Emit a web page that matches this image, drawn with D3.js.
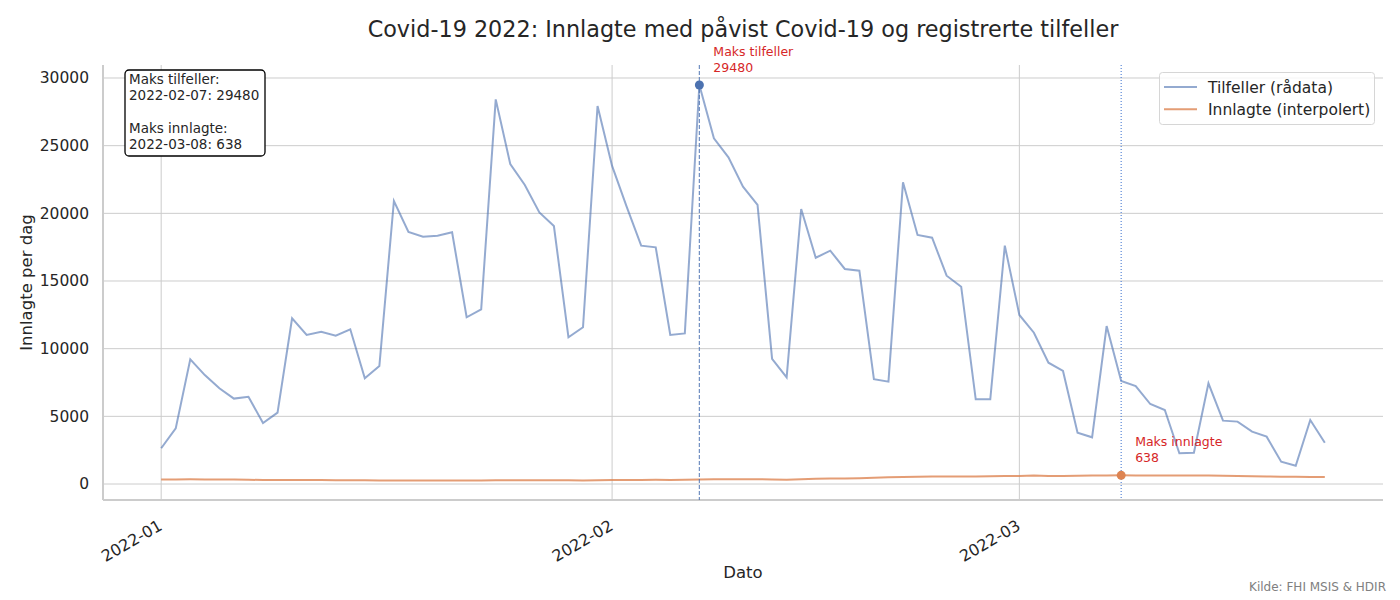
<!DOCTYPE html>
<html>
<head>
<meta charset="utf-8">
<script src="https://cdn.jsdelivr.net/npm/d3@7"></script>
<style>
	body { margin: 0; background: #fff; }
	text { font-family: "DejaVu Sans", sans-serif; fill: #262626; }
</style>
</head>
<body>
<div id="chart"></div>
<script>

// daglige tall, 2022-01-01 .. 2022-03-22
var startDate = new Date(2022, 0, 1);
var endDate = new Date(2022, 2, 23);
var dates = d3.timeDay.range(startDate, endDate);

var tilfeller = [
	2640, 4110, 9210, 8050, 7070, 6310, 6450, 4510, 5270, 12240,
	11010, 11250, 10960, 11430, 7810, 8720, 20910, 18620, 18270, 18350,
	18600, 12320, 12910, 28420, 23640, 22090, 20070, 19060, 10840, 11580,
	27930, 23500, 20490, 17610, 17490, 11010, 11130, 29480, 25540, 24140,
	21970, 20620, 9240, 7880, 20320, 16720, 17240, 15890, 15760, 7740,
	7560, 22290, 18400, 18200, 15390, 14580, 6260, 6260, 17610, 12490,
	11180, 8960, 8350, 3790, 3450, 11670, 7610, 7240, 5910, 5470,
	2270, 2310, 7440, 4680, 4610, 3870, 3500, 1650, 1350, 4730,
	3050
];

var innlagte = [
	330, 340, 345, 335, 330, 325, 315, 290, 290, 295,
	300, 295, 285, 275, 270, 265, 265, 265, 265, 265,
	260, 255, 255, 270, 275, 270, 280, 280, 270, 260,
	280, 295, 300, 305, 310, 305, 320, 340, 345, 350,
	350, 350, 340, 310, 350, 380, 410, 410, 430, 460,
	490, 510, 540, 560, 555, 550, 560, 575, 590, 600,
	625, 600, 590, 605, 620, 630, 638, 625, 620, 620,
	625, 625, 625, 610, 590, 570, 560, 540, 530, 520,
	510
];

var yTicks = [0, 5000, 10000, 15000, 20000, 25000, 30000];
var xTicks = [new Date(2022, 0, 1), new Date(2022, 1, 1), new Date(2022, 2, 1)];

var seriesNames = ['Tilfeller (rådata)', 'Innlagte (interpolert)'];

createChart();

function createChart() {

	var svgWidth = 1400;
	var svgHeight = 600;
	var plot = {left: 103, right: 1383, top: 65, bottom: 500};

	var blue = '#4c72b0';
	var orange = '#dd8452';
	var red = '#d62728';

	var x = d3.scaleTime()
		.domain([new Date(2021, 11, 28), new Date(2022, 2, 26)])
		.range([plot.left, plot.right]);
	var y = d3.scaleLinear()
		.domain([-1182, 30960])
		.range([plot.bottom, plot.top]);

	var svg = d3.select('#chart').append('svg')
		.attr('width', svgWidth).attr('height', svgHeight);

	// rutenett
	svg.append('g').selectAll('line').data(yTicks)
		.enter().append('line')
		.attr('x1', plot.left).attr('x2', plot.right)
		.attr('y1', function(d) { return y(d); })
		.attr('y2', function(d) { return y(d); })
		.style('stroke', '#cccccc').style('stroke-width', 1);

	svg.append('g').selectAll('line').data(xTicks)
		.enter().append('line')
		.attr('x1', function(d) { return x(d); })
		.attr('x2', function(d) { return x(d); })
		.attr('y1', plot.top).attr('y2', plot.bottom)
		.style('stroke', '#cccccc').style('stroke-width', 1);

	// akser
	var yAxis = svg.append('g')
		.attr('transform', 'translate(' + plot.left + ',0)')
		.call(d3.axisLeft(y).tickValues(yTicks).tickSize(0).tickPadding(14).tickFormat(d3.format('d')));
	yAxis.select('.domain').style('stroke', '#cccccc').style('stroke-width', 2)
		.attr('d', 'M0,' + plot.top + 'V' + plot.bottom);
	yAxis.selectAll('text').style('font-size', '15.5px').style('fill', '#262626')
		.style('font-family', '"DejaVu Sans", sans-serif');

	var xAxis = svg.append('g')
		.attr('transform', 'translate(0,' + plot.bottom + ')')
		.call(d3.axisBottom(x).tickValues(xTicks).tickSize(0).tickFormat(d3.timeFormat('%Y-%m')));
	xAxis.select('.domain').style('stroke', '#cccccc').style('stroke-width', 2)
		.attr('d', 'M' + plot.left + ',0H' + plot.right);
	xAxis.selectAll('text')
		.style('font-size', '16px').style('fill', '#262626')
		.style('font-family', '"DejaVu Sans", sans-serif')
		.attr('text-anchor', 'end')
		.attr('x', -5).attr('y', 0).attr('dy', '0.75em')
		.attr('transform', 'translate(0,16) rotate(-30)');

	// linjer
	var lineTilfeller = d3.line()
		.x(function(d, i) { return x(dates[i]); })
		.y(function(d) { return y(d); });

	svg.append('path').datum(tilfeller)
		.attr('d', lineTilfeller)
		.style('fill', 'none').style('stroke', blue)
		.style('stroke-opacity', 0.6).style('stroke-width', 2);

	svg.append('path').datum(innlagte)
		.attr('d', lineTilfeller)
		.style('fill', 'none').style('stroke', orange)
		.style('stroke-opacity', 0.8).style('stroke-width', 2);

	// maks-markeringer
	var iMaxT = d3.maxIndex(tilfeller);
	var iMaxI = d3.maxIndex(innlagte);

	svg.append('line')
		.attr('x1', x(dates[iMaxT])).attr('x2', x(dates[iMaxT]))
		.attr('y1', plot.top).attr('y2', plot.bottom)
		.style('stroke', blue).style('stroke-width', 1.2)
		.style('stroke-dasharray', '4,2').style('stroke-opacity', 0.8);

	svg.append('line')
		.attr('x1', x(dates[iMaxI])).attr('x2', x(dates[iMaxI]))
		.attr('y1', plot.top).attr('y2', plot.bottom)
		.style('stroke', '#5a88d6').style('stroke-width', 1.2)
		.style('stroke-dasharray', '1,2');

	svg.append('circle')
		.attr('cx', x(dates[iMaxT])).attr('cy', y(tilfeller[iMaxT])).attr('r', 4.5)
		.style('fill', blue);
	svg.append('circle')
		.attr('cx', x(dates[iMaxI])).attr('cy', y(innlagte[iMaxI])).attr('r', 4.5)
		.style('fill', orange);

	var annT = svg.append('text')
		.attr('x', x(dates[iMaxT]) + 14).attr('y', 56)
		.style('font-size', '12.5px').style('fill', red);
	annT.append('tspan').attr('x', x(dates[iMaxT]) + 14).text('Maks tilfeller');
	annT.append('tspan').attr('x', x(dates[iMaxT]) + 14).attr('dy', 15.5).text(tilfeller[iMaxT]);

	var annI = svg.append('text')
		.attr('x', x(dates[iMaxI]) + 14).attr('y', 446)
		.style('font-size', '12.5px').style('fill', red);
	annI.append('tspan').attr('x', x(dates[iMaxI]) + 14).text('Maks innlagte');
	annI.append('tspan').attr('x', x(dates[iMaxI]) + 14).attr('dy', 15.5).text(innlagte[iMaxI]);

	// infoboks
	var fmt = d3.timeFormat('%Y-%m-%d');
	var infoLines = [
		'Maks tilfeller:',
		fmt(dates[iMaxT]) + ': ' + tilfeller[iMaxT],
		'',
		'Maks innlagte:',
		fmt(dates[iMaxI]) + ': ' + innlagte[iMaxI]
	];
	svg.append('rect')
		.attr('x', 125).attr('y', 70).attr('width', 140).attr('height', 86)
		.attr('rx', 4).attr('ry', 4)
		.style('fill', '#fff').style('stroke', '#000').style('stroke-width', 1.3);
	svg.append('g').selectAll('text').data(infoLines)
		.enter().append('text')
		.attr('x', 129)
		.attr('y', function(d, i) { return 84 + i * 16.3; })
		.style('font-size', '13.5px')
		.text(function(d) { return d; });

	// legende
	var legend = svg.append('g');
	legend.append('rect')
		.attr('x', 1159.5).attr('y', 72.5).attr('width', 215).attr('height', 52)
		.attr('rx', 3).attr('ry', 3)
		.style('fill', '#fff').style('fill-opacity', 0.8)
		.style('stroke', '#d6d6d6').style('stroke-width', 1);
	var legColors = [blue, orange];
	var legOpac = [0.6, 0.8];
	seriesNames.forEach(function(name, i) {
		var ly = 87 + i * 22.3;
		legend.append('line')
			.attr('x1', 1164).attr('x2', 1197).attr('y1', ly).attr('y2', ly)
			.style('stroke', legColors[i]).style('stroke-opacity', legOpac[i]).style('stroke-width', 2);
		legend.append('text')
			.attr('x', 1208).attr('y', ly + 5.5)
			.style('font-size', '15.5px')
			.text(name);
	});

	// titler
	svg.append('text')
		.attr('x', (plot.left + plot.right) / 2).attr('y', 37)
		.attr('text-anchor', 'middle')
		.style('font-size', '22.3px')
		.text('Covid-19 2022: Innlagte med påvist Covid-19 og registrerte tilfeller');

	svg.append('text')
		.attr('x', (plot.left + plot.right) / 2).attr('y', 578)
		.attr('text-anchor', 'middle')
		.style('font-size', '16.5px')
		.text('Dato');

	svg.append('text')
		.attr('transform', 'translate(32,' + ((plot.top + plot.bottom) / 2) + ') rotate(-90)')
		.attr('text-anchor', 'middle')
		.style('font-size', '16.5px')
		.text('Innlagte per dag');

	svg.append('text')
		.attr('x', 1386).attr('y', 591)
		.attr('text-anchor', 'end')
		.style('font-size', '12px').style('fill', '#808080')
		.text('Kilde: FHI MSIS & HDIR');
};

</script>
</body>
</html>
